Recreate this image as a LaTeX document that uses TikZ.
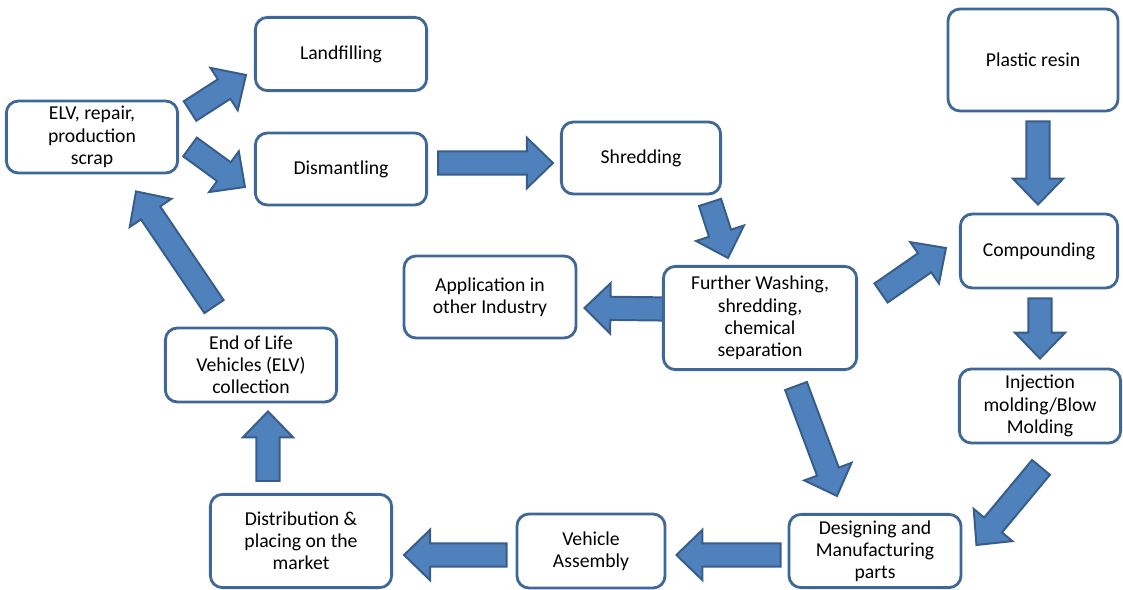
\documentclass[tikz,border=0pt]{standalone}
\usepackage{fontspec}
\setmainfont{Carlito}
\usepackage{xcolor}
\usepackage{tikz}
\usetikzlibrary{calc,positioning}

\definecolor{boxline}{HTML}{3F6797}
\definecolor{arrowfill}{HTML}{4F81BD}
\definecolor{arrowline}{HTML}{385D8A}

\pgfdeclarelayer{back}
\pgfsetlayers{back,main}

% block arrow from tail centre #2 to tip #3
\newcommand{\flow}[3][]{%
	\filldraw [blockarrow, #1] let \p1=(#2), \p2=(#3), \p3=($(\p2)!0.65cm!(\p1)$) in
		($(\p1)!0.29cm!90:(\p2)$) -- ($(\p3)!0.29cm!-90:(\p1)$) -- ($(\p3)!0.63cm!-90:(\p1)$)
		-- (\p2) -- ($(\p3)!0.63cm!90:(\p1)$) -- ($(\p3)!0.29cm!90:(\p1)$) -- ($(\p1)!0.29cm!-90:(\p2)$) -- cycle;}

\begin{document}
\begin{tikzpicture}[x=0.025cm, y=-0.025cm,
		stage/.style={draw=boxline, line width=2pt, fill=white, rounded corners=0.3cm, align=center, inner sep=2pt, font=\fontsize{14}{15.8}\selectfont},
		blockarrow/.style={fill=arrowfill, draw=arrowline, line width=1.4pt, line join=miter}]
				\useasboundingbox (0,0) rectangle (1123,590);
				
				\node [stage, minimum width=4.28cm, minimum height=1.8cm] (elv) at (92,137) {ELV, repair,\\production\\scrap};
				\node [stage, minimum width=4.28cm, minimum height=1.83cm] (land) at (341,54) {Landfilling};
				\node [stage, minimum width=4.28cm, minimum height=1.8cm] (dism) at (341,169) {Dismantling};
				\node [stage, minimum width=3.98cm, minimum height=1.8cm] (shred) at (641,158) {Shredding};
				\node [stage, minimum width=4.25cm, minimum height=2.55cm] (resin) at (1033,60) {Plastic resin};
				\node [stage, minimum width=3.93cm, minimum height=1.85cm] (comp) at (1039,251) {Compounding};
				\node [stage, minimum width=4.83cm, minimum height=2.58cm] (wash) at (760,318) {Further Washing,\\shredding,\\chemical\\separation};
				\node [stage, minimum width=4.3cm, minimum height=2.05cm] (appl) at (490,297) {Application in\\other Industry};
				\node [stage, minimum width=4.03cm, minimum height=1.85cm] (inj) at (1040,406) {Injection\\molding/Blow\\Molding};
				\node [stage, minimum width=4.28cm, minimum height=1.85cm] (eol) at (251,365) {End of Life\\Vehicles (ELV)\\collection};
				\node [stage, minimum width=4.53cm, minimum height=2.33cm] (dist) at (301,541) {Distribution \&\\placing on the\\market};
				\node [stage, minimum width=3.7cm, minimum height=1.85cm] (veh) at (591,551) {Vehicle\\Assembly};
				\node [stage, minimum width=4.3cm, minimum height=1.83cm] (design) at (875,551) {Designing and\\Manufacturing\\parts};
				
				\begin{pgfonlayer}{back}
				\flow{$(elv.east)+(11,-26)$}{$(land.west)+(-8,21)$}
				\flow{$(elv.east)+(11,10)$}{$(dism.west)+(-9,18)$}
				\flow{$(dism.east)+(10,-6)$}{$(shred.west)+(-7,5)$}
				\flow{$(shred.south east)+(-12,7)$}{$(wash.north)+(-32,-7)$}
				\flow{$(wash.east)+(23,-25)$}{$(comp.west)+(-13,-3)$}
				\flow{$(wash.west)+(4,-9)$}{$(appl.east)+(7,11)$}
				\flow{$(resin.south)+(5,9)$}{$(comp.north)+(-1,-8)$}
				\flow{$(comp.south)+(1,9)$}{$(inj.north)+(0,-9)$}
				\flow{$(inj.south)+(1,23)$}{$(design.east)+(14,-6)$}
				\flow{$(wash.south)+(36,15)$}{$(design.north)+(-38,-17)$}
				\flow{$(design.west)+(-7,4)$}{$(veh.east)+(10,4)$}
				\flow{$(veh.west)+(-9,4)$}{$(dist.east)+(11,14)$}
				\flow{$(dist.north)+(-33,-12)$}{$(eol.south)+(17,8)$}
				\flow{$(eol.north)+(-37,-20)$}{$(elv.south)+(44,17)$}
				\end{pgfonlayer}
\end{tikzpicture}
\end{document}
